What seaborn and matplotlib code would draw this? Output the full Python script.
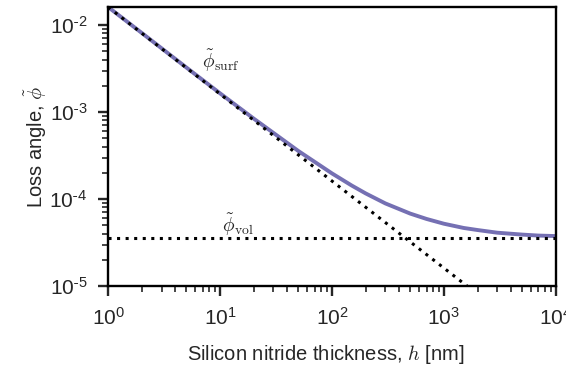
import numpy as np
import pandas as pd
import matplotlib
matplotlib.use("Agg")
import matplotlib.pyplot as plt
import matplotlib.ticker as mticker
import seaborn as sns

# -------------------------------------------------------
# Data (log-log)
# -------------------------------------------------------
thickness_nm = [1, 2, 5, 10, 20, 50, 100, 150, 200, 300, 500, 700,
                1000, 1500, 2000, 3000, 5000, 7000, 10000]
loss_total = [1.61e-2, 8.1e-3, 3.25e-3, 1.64e-3, 8.4e-4, 3.57e-4, 1.97e-4,
              1.43e-4, 1.16e-4, 8.9e-5, 6.8e-5, 5.9e-5,
              5.2e-5, 4.65e-5, 4.4e-5, 4.1e-5, 3.9e-5, 3.8e-5, 3.75e-5]

surf_h = [1, 10000]
surf_phi = [1.61e-2, 1.61e-6]

vol_h = [1, 10000]
vol_phi = [3.6e-5, 3.6e-5]

df_total = pd.DataFrame({"h": thickness_nm, "phi": loss_total})
df_surf = pd.DataFrame({"h": surf_h, "phi": surf_phi})
df_vol = pd.DataFrame({"h": vol_h, "phi": vol_phi})

# -------------------------------------------------------
# Style
# -------------------------------------------------------
sns.set_style("ticks")
plt.rcParams["font.family"] = ["Liberation Sans", "DejaVu Sans"]
plt.rcParams["mathtext.fontset"] = "cm"

fig = plt.figure(figsize=(5.66, 3.70), dpi=100)
ax = fig.add_axes([0.191, 0.227, 0.791, 0.754])

sns.lineplot(data=df_total, x="h", y="phi", ax=ax, color="#7570b3",
             linewidth=2.8, zorder=2)
sns.lineplot(data=df_surf, x="h", y="phi", ax=ax, color="black",
             linewidth=2.2, zorder=3)
sns.lineplot(data=df_vol, x="h", y="phi", ax=ax, color="black",
             linewidth=2.2, zorder=3)
for ln in ax.lines[1:]:
    ln.set_dashes((1, 1.8))

ax.set_xscale("log")
ax.set_yscale("log")
ax.set_xlim(1, 1e4)
ax.set_ylim(1e-5, 1.61e-2)

def pow_fmt(val, pos):
    e = int(round(np.log10(val)))
    if e < 0:
        return r"$\mathregular{10^{\text{-}%d}}$" % (-e)
    return r"$\mathregular{10^{%d}}$" % e

ax.xaxis.set_major_locator(mticker.LogLocator(base=10, numticks=10))
ax.yaxis.set_major_locator(mticker.LogLocator(base=10, numticks=10))
ax.xaxis.set_minor_locator(mticker.LogLocator(base=10, subs=np.arange(2, 10), numticks=20))
ax.yaxis.set_minor_locator(mticker.LogLocator(base=10, subs=np.arange(2, 10), numticks=20))
ax.xaxis.set_major_formatter(mticker.FuncFormatter(pow_fmt))
ax.yaxis.set_major_formatter(mticker.FuncFormatter(pow_fmt))
ax.xaxis.set_minor_formatter(mticker.NullFormatter())
ax.yaxis.set_minor_formatter(mticker.NullFormatter())

for s in ax.spines.values():
    s.set_linewidth(1.7)
    s.set_color("black")
ax.tick_params(which="major", direction="out", length=7, width=1.7,
               labelsize=15, top=False, right=False)
ax.tick_params(which="minor", direction="out", length=4, width=1.2,
               top=False, right=False)
ax.tick_params(axis="x", which="major", pad=8)
ax.tick_params(axis="y", which="major", pad=8)

ax.set_xlabel(r"Silicon nitride thickness, $h$ [nm]", fontsize=14.5, labelpad=10)
ax.xaxis.label.set_x(0.485)
ax.set_ylabel(r"Loss angle, $\tilde{\phi}$", fontsize=14.5, labelpad=0)

ax.text(10.2, 2.75e-3, r"$\tilde{\phi}_{\rm surf}$", fontsize=14,
        ha="center", va="bottom")
ax.text(14.5, 3.6e-5, r"$\tilde{\phi}_{\rm vol}$", fontsize=14,
        ha="center", va="bottom")

fig.savefig("out.png", dpi=100)
